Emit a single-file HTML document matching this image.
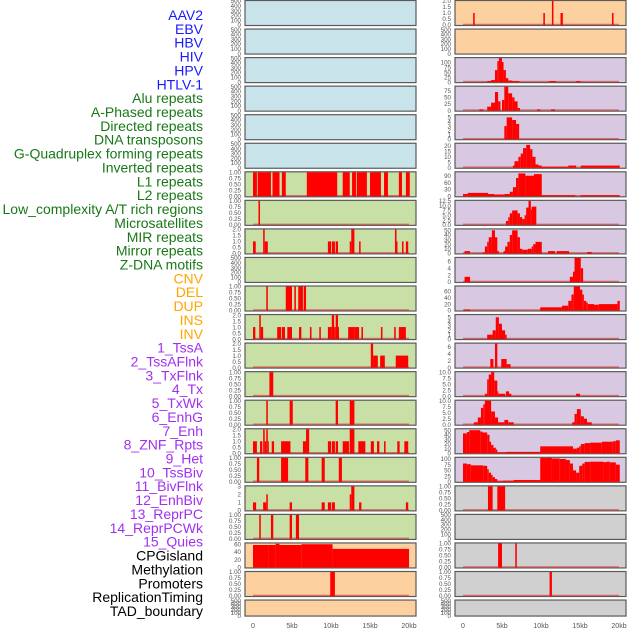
<!DOCTYPE html>
<html><head><meta charset="utf-8"><style>
html,body{margin:0;padding:0;background:#fff;}
svg{display:block;font-family:"Liberation Sans",sans-serif;}
</style></head><body>
<svg id="chart" width="630" height="630" xmlns="http://www.w3.org/2000/svg"></svg>
<script>
// ---- track labels ----
const labels = ["AAV2","EBV","HBV","HIV","HPV","HTLV-1","Alu repeats","A-Phased repeats","Directed repeats","DNA transposons","G-Quadruplex forming repeats","Inverted repeats","L1 repeats","L2 repeats","Low_complexity A/T rich regions","Microsatellites","MIR repeats","Mirror repeats","Z-DNA motifs","CNV","DEL","DUP","INS","INV","1_TssA","2_TssAFlnk","3_TxFlnk","4_Tx","5_TxWk","6_EnhG","7_Enh","8_ZNF_Rpts","9_Het","10_TssBiv","11_BivFlnk","12_EnhBiv","13_ReprPC","14_ReprPCWk","15_Quies","CPGisland","Methylation","Promoters","ReplicationTiming","TAD_boundary"];
const labelGroups = ["v","v","v","v","v","v","r","r","r","r","r","r","r","r","r","r","r","r","r","c","c","c","c","c","s","s","s","s","s","s","s","s","s","s","s","s","s","s","s","o","o","o","o","o"];
const xTickLabels = ["0","5kb","10kb","15kb","20kb"];
const xTickValues = [0,5,10,15,20];

// ---- per-track data: [startKb, endKb, value] ----
const seg_alu = [[0,0.5,1],[0.6,2.3,1],[2.5,3.4,1],[3.7,4.2,1],[6.9,10.8,1],[11.5,12.4,1],[12.7,13.2,1],[13.3,14.6,1],[15,16.4,1],[16.8,17.3,1],[18.7,19.1,1],[19.6,20.1,1]];
const seg_aphased = [[0.7,0.9,1]];
const seg_directed = [[0,0.35,1],[1.3,1.5,2],[1.5,1.9,1],[9.6,10,1],[10.1,10.5,1],[10.6,10.9,1],[12.4,12.6,1],[12.6,13,2],[13.6,13.8,1],[18.2,18.4,2],[18.4,18.5,1],[19.1,19.3,1],[19.6,19.9,1]];
const seg_dna = [];
const seg_gquad = [[1.7,1.9,1],[4.2,5.0,1],[5.3,5.5,1],[5.8,6.4,1],[6.5,6.8,1]];
const seg_inverted = [[0,0.3,1],[0.8,1.0,2],[1.0,1.3,1],[3.1,3.6,1],[3.7,4.1,1],[4.4,5.0,1],[5.9,6.2,1],[7.3,7.5,1],[8.5,8.7,1],[9.6,10.1,1],[10.1,10.4,2],[10.4,10.6,1],[10.6,10.9,2],[10.9,11.0,1],[12.2,13,1],[13,13.6,1],[13.9,14.1,1],[16.4,16.6,1],[18.1,18.3,1],[18.7,19.6,1]];
const seg_l1 = [[15.1,15.4,2],[15.4,16,1],[16.3,16.9,1],[18.3,19.9,1]];
const seg_l2 = [[2.1,2.6,1]];
const seg_lowc = [[1.7,1.9,1],[4.7,5.1,1],[10.6,10.9,1],[12.4,13,1]];
const seg_microsat = [[0,0.5,1],[0.9,1.2,1],[1.3,1.5,2],[1.5,1.7,1],[1.7,1.9,2],[1.9,2.0,1],[2.4,2.7,1],[3.6,4.8,1],[6.4,6.8,1],[6.8,7.2,2],[9.6,10,1],[10.1,10.5,1],[10.6,10.9,1],[11.5,12.3,1],[12.4,13,2],[13.5,14.4,1],[15.1,15.5,1],[15.9,16.2,1],[16.8,17,1],[18.5,18.8,1],[19.4,19.9,1]];
const seg_mir = [[0.5,0.8,1],[3.6,4.5,1],[6.7,7.1,1],[8.8,9.2,1],[11,11.4,1]];
const seg_mirror = [[0,0.4,1],[1.3,1.7,1],[1.7,1.9,2],[4.7,5,1],[8.8,9.2,1],[9.6,10,1],[10.1,10.5,1],[12.4,12.6,2],[12.6,13,3],[13.6,13.9,1],[19.6,19.9,1]];
const seg_zdna = [[0.8,1.0,1],[2.3,2.6,1],[4.7,5,1],[5.5,5.9,1]];
const seg_cnv = [[0,2,58],[2,2.9,58],[2.9,3.4,61],[3.4,6.2,58],[6.2,10.2,60],[10.2,20,48]];
const seg_del = [[9.9,10.5,1]];
const seg_dup = [];
const seg_ins = [[1.3,1.5,1],[10.3,10.5,1],[11.4,11.6,2],[12.5,12.8,1],[19.1,19.3,1]];
const seg_inv = [];
const seg_s1 = [[3.1,3.6,5],[3.6,4.1,10],[4.1,4.4,60],[4.4,4.6,105],[4.6,5.0,120],[5.0,5.2,100],[5.2,5.5,60],[5.5,5.8,20],[5.8,6.3,8],[6.3,7.2,5],[11,11.9,5],[14.5,15.1,5]];
const seg_s2 = [[2.1,2.6,5],[3.1,3.6,15],[3.6,4.1,30],[4.1,4.5,70],[4.5,4.8,35],[5.0,5.3,40],[5.3,5.8,90],[5.8,6.3,65],[6.3,6.6,50],[6.6,7.0,35],[7.0,7.3,10],[9.5,9.9,5],[11.3,11.8,5]];
const seg_s3 = [[5.3,5.6,3],[5.6,6.3,5],[6.3,6.8,4.4],[6.8,7.2,3.5]];
const seg_s4 = [[6.4,6.6,2],[6.6,7.1,6],[7.1,7.4,10],[7.4,7.7,13],[7.7,8.1,18],[8.1,8.6,21],[8.6,8.9,17],[8.9,9.3,10],[9.3,9.7,3],[9.7,10.1,2],[10.1,13.5,1],[13.5,14.5,2],[15.1,20.1,2]];
const seg_s5 = [[0,0.6,10],[0.6,3.2,15],[3.2,4.0,10],[4.0,5.3,8],[5.3,6.0,10],[6.0,6.4,20],[6.4,6.8,40],[6.8,7.1,80],[7.1,8.0,100],[8.0,9.1,90],[9.1,10.1,97],[10.1,14.4,5],[15.1,20.1,5]];
const seg_s6 = [[5.5,5.8,2],[5.8,6.0,4],[6.0,6.3,6],[6.3,7.0,7.5],[7.0,7.3,6],[7.3,7.6,4],[7.6,7.9,3],[7.9,8.1,5],[8.1,8.4,9],[8.4,8.7,12.5],[8.7,8.8,8],[8.8,9.4,9.5]];
const seg_s7 = [[0.2,0.9,5],[2.5,2.8,2],[2.8,3.1,15],[3.1,3.3,25],[3.3,3.7,35],[3.7,4.1,50],[4.1,4.4,35],[4.4,4.6,5],[5.2,5.4,5],[5.4,5.7,15],[5.7,6.0,25],[6.0,6.3,40],[6.3,7.0,50],[7.0,7.3,35],[7.3,7.6,10],[7.6,8.3,8],[8.3,8.8,10],[8.8,9.0,15],[9.0,9.3,20],[9.3,10.1,25],[10.9,11.8,5],[12,13.6,5],[15.9,16.5,3]];
const seg_s8 = [[0.2,0.9,1.5],[13.7,14.1,1.5],[14.1,14.3,3],[14.3,15.1,7],[15.1,15.4,4]];
const seg_s9 = [[0.1,0.9,3],[9.9,12.7,10],[12.7,13.5,15],[13.5,13.9,30],[13.9,14.2,50],[14.2,15.0,75],[15.0,15.3,65],[15.3,15.5,50],[15.5,15.8,30],[15.8,16.0,25],[16.0,16.8,20],[16.8,17.4,18],[17.4,19.8,20],[19.8,20.1,30]];
const seg_s10 = [[3.1,3.8,1],[3.8,4.2,2],[4.2,4.6,5],[4.6,5.0,3.5],[5.0,5.4,2],[5.4,5.6,1]];
const seg_s11 = [[3.5,3.9,2.5],[4.1,4.4,7],[4.9,5.6,2.5],[5.6,6.1,1]];
const seg_s12 = [[2.8,3.1,1],[3.1,3.3,7],[3.3,3.6,9],[3.6,4.0,10],[4.0,4.4,6.5],[4.4,4.5,2],[4.5,5.4,1],[5.5,5.9,2],[5.9,6.2,1],[14.5,15,1]];
const seg_s13 = [[1.4,1.9,1],[1.9,2.3,3],[2.3,2.6,7],[2.6,2.8,8.5],[2.8,3.6,10],[3.6,4.1,5.5],[4.1,4.5,3],[4.5,5.3,1],[5.3,5.8,2],[5.8,6.5,1],[14.0,14.3,1],[14.3,14.6,4.5],[14.6,15.1,6.5],[15.1,15.5,3.5],[15.5,15.9,2.5],[15.9,16.5,1]];
const seg_s14 = [[0,0.5,43],[0.5,0.8,46],[0.8,2.2,50],[2.2,2.5,47],[2.5,3.1,45],[3.1,3.4,40],[3.4,3.6,25],[3.6,3.9,18],[3.9,4.2,12],[4.2,4.4,8],[4.4,5.5,2],[5.5,9.9,3],[9.9,14.1,15],[14.1,14.6,10],[14.6,14.9,12],[14.9,15.1,15],[15.1,15.6,20],[15.6,16.3,22],[16.3,17.8,23],[17.8,19.2,25],[19.2,19.6,26],[19.6,20.1,28]];
const seg_s15 = [[0,0.5,80],[0.5,1.0,77],[1.0,2.6,72],[2.6,3.1,70],[3.1,3.3,55],[3.3,3.6,40],[3.6,3.8,30],[3.8,4.1,20],[4.1,4.4,12],[4.4,5.1,3],[5.1,6.5,5],[6.5,9.9,8],[9.9,11.4,105],[11.4,12.4,102],[12.4,13.2,100],[13.2,13.7,95],[13.7,14.1,80],[14.1,14.5,50],[14.5,14.9,40],[14.9,15.3,70],[15.3,15.6,80],[15.6,16.3,87],[16.3,18.0,88],[18.0,18.4,86],[18.4,18.8,88],[18.8,19.6,85],[19.6,20.1,75]];
const seg_cpg = [[3.2,3.8,1],[4.4,5.4,1]];
const seg_meth = [];
const seg_prom = [[4.5,5.0,1],[6.7,6.9,1]];
const seg_rep = [[11.1,11.4,1]];
const seg_tad = [];

// ---- tick label arrays ----
const t500 = ["0","100","200","300","400","500"];
const t1 = ["0.00","0.25","0.50","0.75","1.00"];
const t2 = ["0.0","0.5","1.0","1.5","2.0"];
const t3 = ["0","1","2","3"];
const t60 = ["0","20","40","60"];
const t100 = ["0","25","50","75","100"];
const t75 = ["0","25","50","75"];
const t5 = ["0","1","2","3","4","5"];
const t20 = ["0","5","10","15","20"];
const t90 = ["0","30","60","90"];
const t125 = ["0.0","2.5","5.0","7.5","10.0","12.5"];
const t50 = ["0","10","20","30","40","50"];
const t6 = ["0","2","4","6"];
const t10 = ["0.0","2.5","5.0","7.5","10.0"];

// [name, column, row, color, ymax, ticks, data]
const panels = [
 ["AAV2",0,0,"b",500,t500,[]],["EBV",0,1,"b",500,t500,[]],["HBV",0,2,"b",500,t500,[]],["HIV",0,3,"b",500,t500,[]],["HPV",0,4,"b",500,t500,[]],["HTLV-1",0,5,"b",500,t500,[]],
 ["alu",0,6,"g",1,t1,seg_alu],["aphased",0,7,"g",1,t1,seg_aphased],["directed",0,8,"g",2,t2,seg_directed],["dna",0,9,"g",500,t500,seg_dna],["gquad",0,10,"g",1,t1,seg_gquad],["inverted",0,11,"g",2,t2,seg_inverted],["l1",0,12,"g",2,t2,seg_l1],["l2",0,13,"g",1,t1,seg_l2],["lowc",0,14,"g",1,t1,seg_lowc],["microsat",0,15,"g",2,t2,seg_microsat],["mir",0,16,"g",1,t1,seg_mir],["mirror",0,17,"g",3,t3,seg_mirror],["zdna",0,18,"g",1,t1,seg_zdna],
 ["cnv",0,19,"o",62,t60,seg_cnv],["del",0,20,"o",1,t1,seg_del],["dup",0,21,"o",500,t500,seg_dup],
 ["ins",1,0,"o",2,t2,seg_ins],["inv",1,1,"o",500,t500,seg_inv],
 ["s1",1,2,"p",120,t100,seg_s1],["s2",1,3,"p",90,t75,seg_s2],["s3",1,4,"p",5.5,t5,seg_s3],["s4",1,5,"p",22,t20,seg_s4],["s5",1,6,"p",105,t90,seg_s5],["s6",1,7,"p",12.5,t125,seg_s6],["s7",1,8,"p",52,t50,seg_s7],["s8",1,9,"p",7,t6,seg_s8],["s9",1,10,"p",75,t60,seg_s9],["s10",1,11,"p",5.5,t5,seg_s10],["s11",1,12,"p",7,t6,seg_s11],["s12",1,13,"p",10,t10,seg_s12],["s13",1,14,"p",10,t10,seg_s13],["s14",1,15,"p",52,t50,seg_s14],["s15",1,16,"p",105,t100,seg_s15],
 ["cpg",1,17,"y",1,t1,seg_cpg],["meth",1,18,"y",500,t500,seg_meth],["prom",1,19,"y",1,t1,seg_prom],["rep",1,20,"y",1,t1,seg_rep],["tad",1,21,"y",500,t500,seg_tad]
];

const NS="http://www.w3.org/2000/svg";
const svg=document.getElementById("chart");
const fills={b:"#c9e3ea",g:"#c8e0a5",o:"#fdd09f",p:"#d8c8e2",y:"#d0d0d0"};
const labelColors={v:"#1a1aff",r:"#187818",c:"#ffa500",s:"#a030f0",o:"#000000"};
function mk(tag,attrs){const e=document.createElementNS(NS,tag);for(const k in attrs)e.setAttribute(k,attrs[k]);svg.appendChild(e);return e;}
function panelX(col){return col===0?245:455;}
function xScale(col,kb){return panelX(col)+8+kb*7.8;}
function rowTop(row){return 0.5+row*28.55;}
function rowH(row){return row===21?16:25;}

// labels
labels.forEach((t,i)=>{
  const el=mk("text",{x:203,y:20+i*13.86,"text-anchor":"end","font-size":"14",fill:labelColors[labelGroups[i]]});
  
  
  el.textContent=t;
});

panels.forEach(p=>{
  const [name,col,row,c,ymax,ticks,data]=p;
  const x=panelX(col), y=rowTop(row), h=rowH(row), w=171;
  const bg=mk("rect",{x:x,y:y,width:w,height:h,fill:fills[c],stroke:"#5a5a5a","stroke-width":"1.2"});
  
  
  const bottom=y+h-0.5, inner=h-1;
  const ys=v=>bottom-v/ymax*inner;
  if(data.length){
    const bl=mk("line",{x1:xScale(col,0),x2:xScale(col,20),y1:bottom-0.5,y2:bottom-0.5,stroke:"#d04040","stroke-opacity":"0.7","stroke-width":"1.5"});
    
    
  }
  data.forEach(d=>{
    const x0=xScale(col,d[0]), x1=xScale(col,d[1]);
    const r=mk("rect",{x:x0,y:ys(d[2]),width:Math.max(1,x1-x0),height:bottom-ys(d[2]),fill:"#ff0000"});
    
    
  });
  ticks.forEach(t=>{
    const v=parseFloat(t);
    const tl=mk("text",{x:x-4,y:ys(v)+2.2,"text-anchor":"end","font-size":"6.2",fill:"#555"});
    
    
    tl.textContent=t;
  });
});

// x axis ticks
[0,1].forEach(col=>{
  xTickValues.forEach((v,i)=>{
    const tl=mk("text",{x:xScale(col,v),y:628,"text-anchor":"middle","font-size":"7",fill:"#555"});
    
    
    tl.textContent=xTickLabels[i];
  });
});
</script>
</body></html>
